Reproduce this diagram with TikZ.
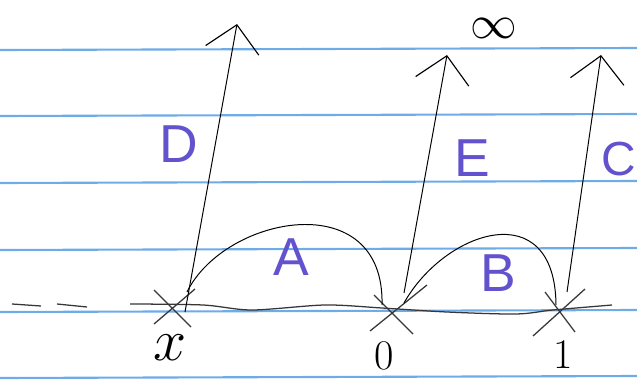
\documentclass[tikz,border=0pt]{standalone}
\usepackage{fontspec}
\setsansfont{Liberation Sans}
\usetikzlibrary{arrows.meta}
\definecolor{ruleblue}{RGB}{110,172,232}
\definecolor{penblue}{RGB}{98,82,205}
\definecolor{pencil}{RGB}{55,55,55}

\begin{document}
\begin{tikzpicture}[x=0.025cm,y=-0.025cm,
    regla/.style={ruleblue,line width=1.5pt},
    flecha/.style={line width=0.7pt,-{Straight Barb[length=6.5mm,width=13.5mm,line width=0.8pt]}},
    cruz/.style={line width=0.9pt,pencil},
    letra/.style={text=penblue,font=\sffamily\fontsize{38}{38}\selectfont,inner sep=0pt},
    numero/.style={text=black,font=\fontsize{30}{30}\selectfont,inner sep=0pt}]

    % hoja
    \useasboundingbox (0,0) rectangle (637,381);
    \fill[white] (0,0) rectangle (637,381);
    \foreach \y in {50,116,183,250,312,378}
        \draw[regla] (0,\y) -- (637,\y-2);

    % recta real
    \draw[pencil,line width=0.9pt] (12,304) -- (41,306);
    \draw[pencil,line width=0.9pt] (57,304) -- (87,307);
    \draw[pencil,line width=0.9pt] plot[smooth] coordinates
        {(130,304) (203,305) (252,310) (325,305) (382,308) (447,312) (516,314) (553,310) (612,305)};

    % puntos x, 0, 1
    \coordinate (px) at (171,304);
    \coordinate (p0) at (392,310);
    \coordinate (p1) at (557,310);
    \draw[cruz] (px) +(-17,-14) -- +(20,23) (px) +(-17,20) -- +(24,-15);
    \draw[cruz] (p0) +(-18,-15) -- +(21,24) (p0) +(-22,21) -- +(35,-25);
    \draw[cruz] (p1) +(-24,26) -- +(28,-21) (p1) +(-12,-18) -- +(18,22);

    \node[numero,scale=1.7] (lx) at (170,348) {$x$};
    \node[numero] (l0) at (384,356) {0};
    \node[numero] (l1) at (563,355) {1};
    \node[numero,font=\fontsize{20}{20}\selectfont,scale=1.6] (linf) at (494,28) {$\infty$};

    % arcos A y B
    \coordinate (aL) at (187,292);
    \coordinate (aR) at (382,305);
    \coordinate (bL) at (404,303);
    \coordinate (bR) at (556,305);
    \draw[line width=0.7pt] (aL) .. controls (225,215) and (385,185) .. (aR);
    \draw[line width=0.7pt] (bL) .. controls (445,230) and (555,194) .. (bR);

    % flechas hacia infinito
    \coordinate (dS) at (185,312);
    \coordinate (dT) at (237,24);
    \coordinate (eS) at (404,293);
    \coordinate (eT) at (447,55);
    \coordinate (cS) at (567,292);
    \coordinate (cT) at (601,55);
    \draw[flecha] (dS) -- (dT);
    \draw[flecha] (eS) -- (eT);
    \draw[flecha] (cS) -- (cT);

    % etiquetas
    \node[letra] (lA) at (291,257) {A};
    \node[letra] (lB) at (498,273) {B};
    \node[letra,font=\sffamily\fontsize{34}{34}\selectfont] (lC) at (619,159) {C};
    \node[letra] (lD) at (179,144) {D};
    \node[letra] (lE) at (472,158) {E};

\end{tikzpicture}
\end{document}
